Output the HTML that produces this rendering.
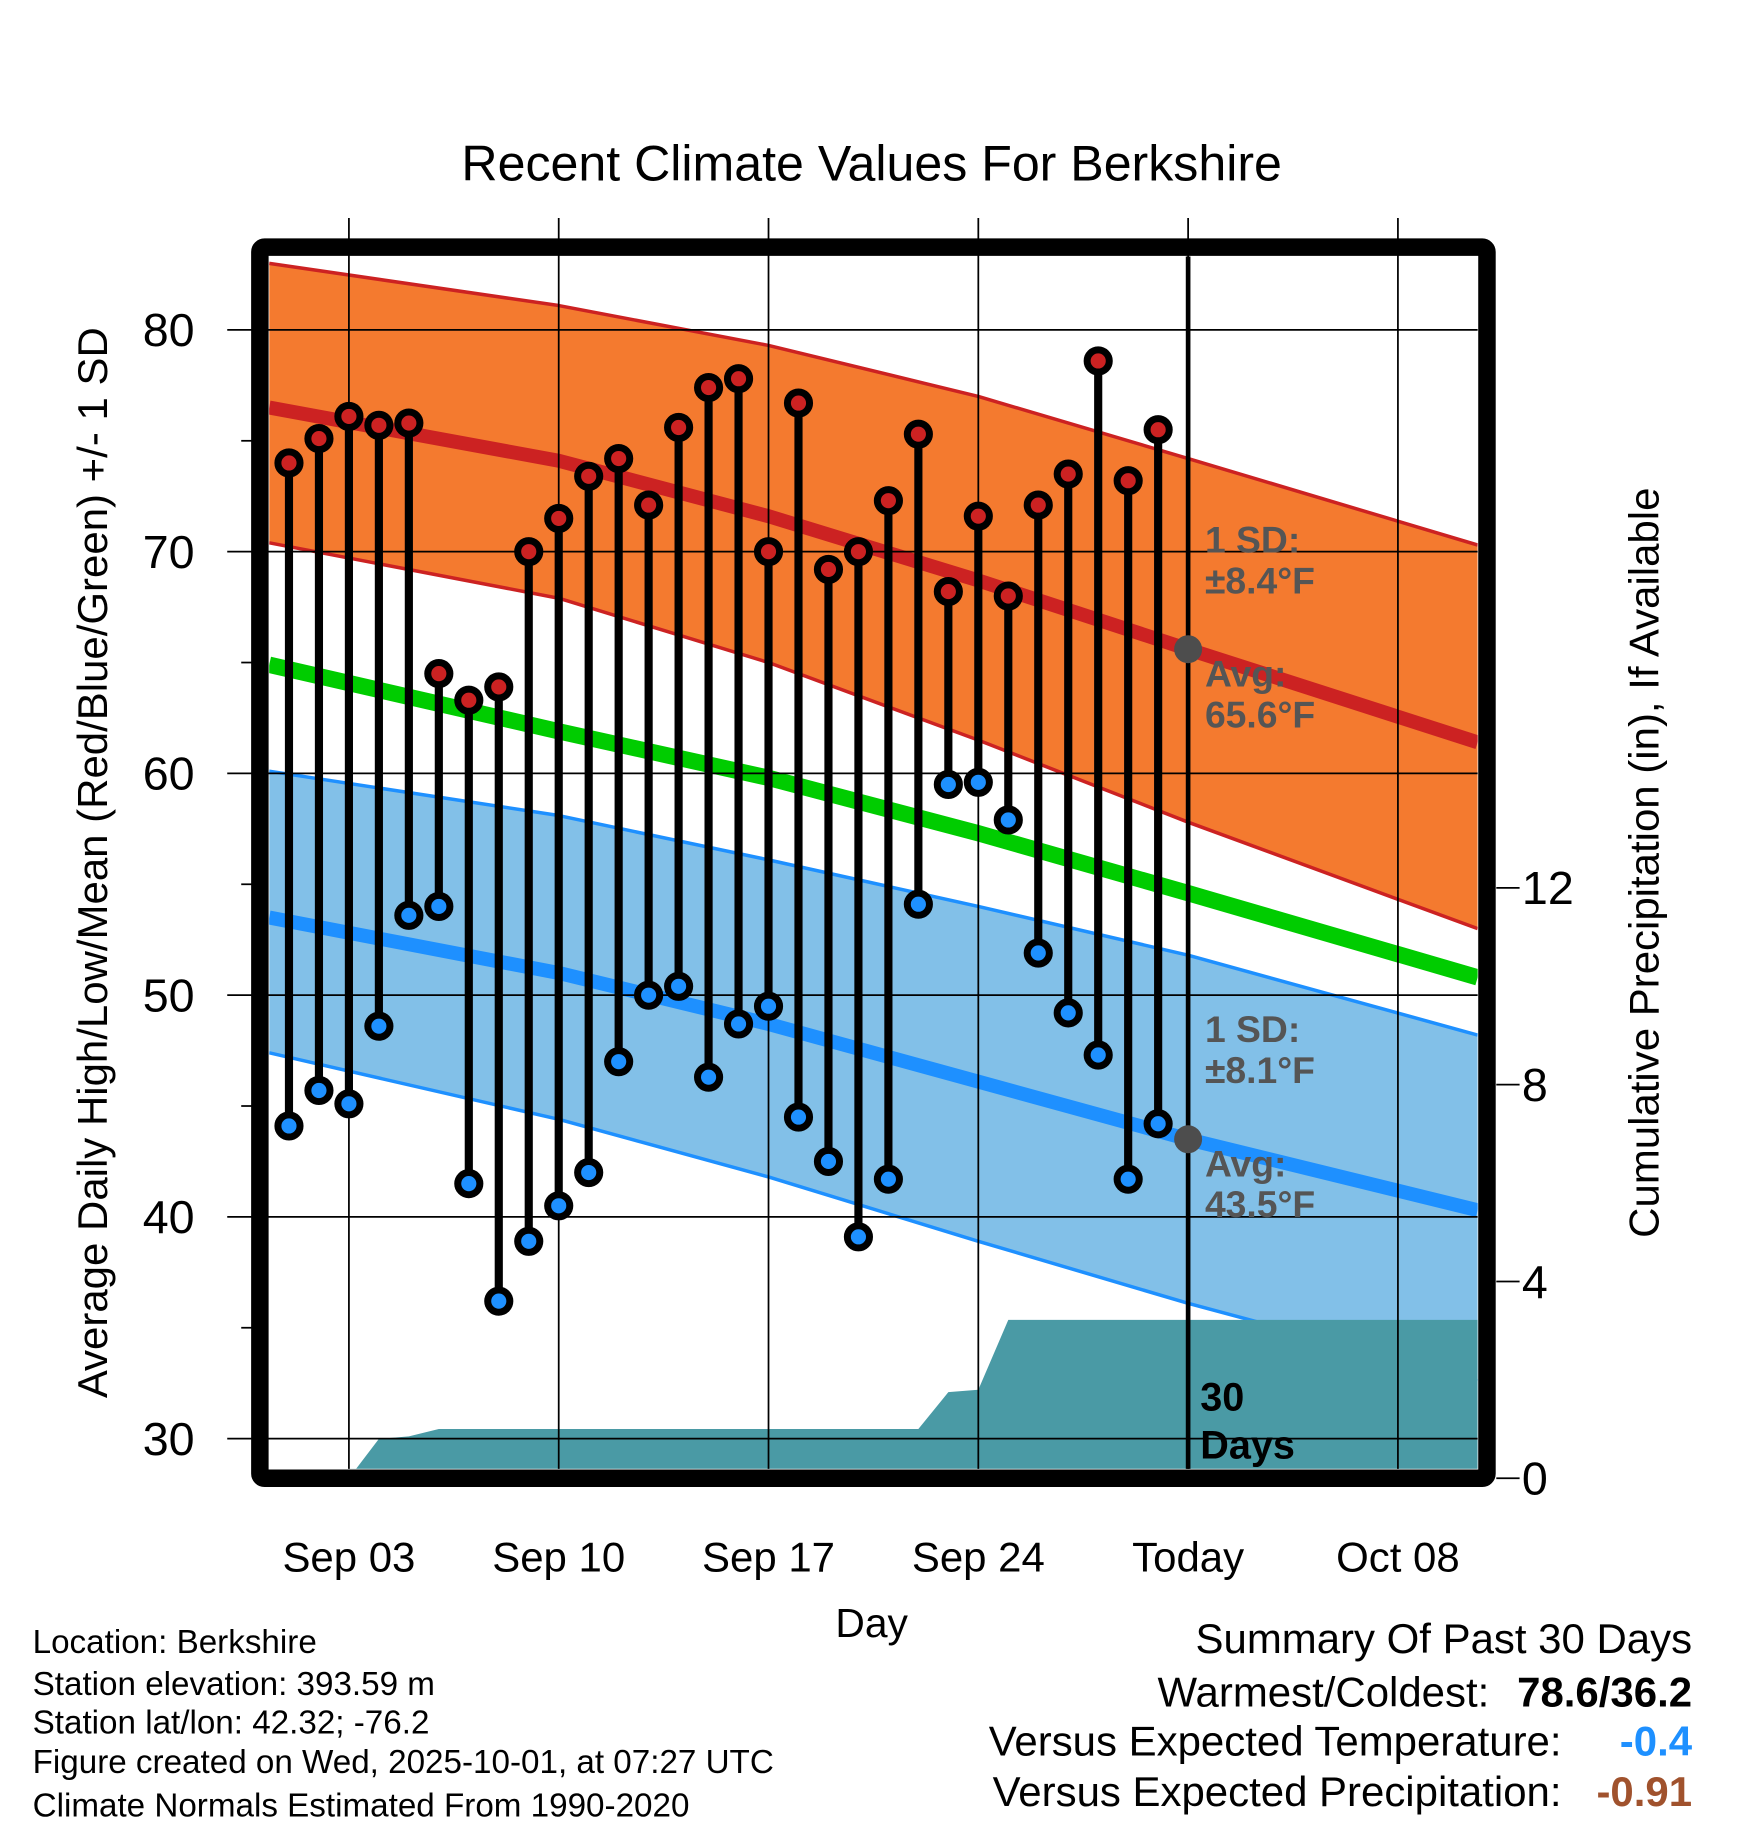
<!DOCTYPE html>
<html><head><meta charset="utf-8"><style>
html,body{margin:0;padding:0;background:#fff;}
svg{display:block;font-family:"Liberation Sans",sans-serif;}
</style></head><body>
<svg id="chart" width="1748" height="1828" viewBox="0 0 1500 1568" preserveAspectRatio="none" xmlns="http://www.w3.org/2000/svg">
<rect width="1500" height="1568" fill="#fff"/>
<g id="g"></g>
</svg>
<script>
// Observations (day of September)
const days = [1,2,3,4,5,6,7,8,9,10,11,12,13,14,15,16,17,18,19,20,21,22,23,24,25,26,27,28,29,30];
const highs = [74.0,75.1,76.1,75.7,75.8,64.5,63.3,63.9,70.0,71.5,73.4,74.2,72.1,75.6,77.4,77.8,70.0,76.7,69.2,70.0,72.3,75.3,68.2,71.6,68.0,72.1,73.5,78.6,73.2,75.5];
const lows = [44.1,45.7,45.1,48.6,53.6,54.0,41.5,36.2,38.9,40.5,42.0,47.0,50.0,50.4,46.3,48.7,49.5,44.5,42.5,39.1,41.7,54.1,59.5,59.6,57.9,51.9,49.2,47.3,41.7,44.2];
// Normals (sampled days)
const normDays = [0.34,10,17,24,31,40.66];
const hiAvg = [76.5,74.1,71.6,68.7,65.6,61.4];
const hiUpper = [83.0,81.1,79.3,77.0,74.2,70.3];
const hiLower = [70.4,67.9,65.0,61.5,57.8,53.0];
const meanAvg = [64.9,61.9,59.8,57.3,54.6,50.8];
const loAvg = [53.5,51.0,48.7,46.1,43.5,40.3];
const loUpper = [60.1,58.1,56.1,54.0,51.8,48.2];
const loLower = [47.4,44.4,41.8,38.9,36.1,32.6];
// Cumulative precipitation
const precipDays = [3,4,5,6,22,23,24,25,40.66];
const precipVals = [0,0.8,0.85,1.0,1.0,1.75,1.8,3.22,3.22];
const yTicks = [30,40,50,60,70,80];
const yMinor = [35,45,55,65,75];
const pTicks = [0,4,8,12];
const xTickDays = [3,10,17,24,31,38];
const xTickLabels = ["Sep 03","Sep 10","Sep 17","Sep 24","Today","Oct 08"];

const L=231,R=1268,T=220,B=1260;
const x=d=>L+(d-0.34)*(R-L)/(40.66-0.34);
const y=v=>283+(80-v)*19.02;
const yp=p=>1268-p*42.2;
const NS="http://www.w3.org/2000/svg";
const g=document.getElementById('g');
function el(tag,attrs,parent){const e=document.createElementNS(NS,tag);for(const k in attrs)e.setAttribute(k,attrs[k]);(parent||g).appendChild(e);return e;}
function line(xs,ys){return xs.map((d,i)=>x(d)+','+y(ys[i])).join(' ');}
function band(xs,up,lo){return line(xs,up)+' '+xs.slice().reverse().map((d,i)=>x(d)+','+y(lo[lo.length-1-i])).join(' ');}

const defs=el('defs',{});const cp=el('clipPath',{id:'clip'},defs);el('rect',{x:L,y:T,width:R-L,height:B-T},cp);
const plot=el('g',{'clip-path':'url(#clip)'});

let e;
e=el('polygon',{points:band(normDays,hiUpper,hiLower),fill:'#f47a2f'},plot);


e=el('polygon',{points:band(normDays,loUpper,loLower),fill:'#82c0e8'},plot);


[[hiUpper,'#cc2222',3],[hiLower,'#cc2222',3],[loUpper,'#1e90ff',3],[loLower,'#1e90ff',3],[hiAvg,'#cc2222',12],[loAvg,'#1e90ff',12],[meanAvg,'#00cc00',14]].forEach((s,i)=>{
 e=el('polyline',{points:line(normDays,s[0]),fill:'none',stroke:s[1],'stroke-width':s[2],'stroke-linejoin':'round'},plot);
 
 
});
let pp=precipDays.map((d,i)=>x(d)+','+yp(precipVals[i])).join(' ');
pp+=' '+x(40.66)+','+B+' '+x(precipDays[0])+','+B;
e=el('polygon',{points:pp,fill:'#4a9aa5'},plot);



// grid
yTicks.forEach(v=>{e=el('line',{x1:195,x2:R,y1:y(v),y2:y(v),stroke:'#000','stroke-width':1.5});
 e=el('text',{x:167,y:y(v)+14,'font-size':40,'text-anchor':'end'});e.textContent=v;});
yMinor.forEach(v=>{e=el('line',{x1:207,x2:216,y1:y(v),y2:y(v),stroke:'#000','stroke-width':1.5});});
xTickDays.forEach((d,i)=>{e=el('line',{x1:x(d),x2:x(d),y1:187,y2:B,stroke:'#000','stroke-width':1.5});
 e=el('text',{x:x(d),y:1348,'font-size':36,'text-anchor':'middle'});e.textContent=xTickLabels[i];});
pTicks.forEach(p=>{e=el('line',{x1:1284,x2:1304,y1:yp(p),y2:yp(p),stroke:'#000','stroke-width':1.5});
 e=el('text',{x:1306,y:yp(p)+14,'font-size':40});e.textContent=p;});

// today line
e=el('line',{x1:x(31),x2:x(31),y1:T,y2:B,stroke:'#000','stroke-width':4});



// stems
days.forEach((d,i)=>{
 e=el('line',{x1:x(d),x2:x(d),y1:y(highs[i]),y2:y(lows[i]),stroke:'#000','stroke-width':7});
 
 
});
days.forEach((d,i)=>{
 e=el('circle',{cx:x(d),cy:y(highs[i]),r:9.5,fill:'#cc2222',stroke:'#000','stroke-width':6});
 
 
 e=el('circle',{cx:x(d),cy:y(lows[i]),r:9.5,fill:'#1e90ff',stroke:'#000','stroke-width':6});
 
 
});
// avg markers
[[hiAvg[4],'high-avg-marker'],[loAvg[4],'low-avg-marker']].forEach(a=>{e=el('circle',{cx:x(31),cy:y(a[0]),r:12,fill:'#4d4d4d'});});

// frame
e=el('rect',{x:223,y:212,width:1053,height:1056,fill:'none',stroke:'#000','stroke-width':15,rx:4});


</script>
<svg style="position:absolute;left:0;top:0" width="1748" height="1828" viewBox="0 0 1500 1568" preserveAspectRatio="none" xmlns="http://www.w3.org/2000/svg" font-family="Liberation Sans, sans-serif">
<text x="748" y="155" font-size="43" text-anchor="middle">Recent Climate Values For Berkshire</text>
<text transform="translate(92,740) rotate(-90)" font-size="36" text-anchor="middle">Average Daily High/Low/Mean (Red/Blue/Green) +/- 1 SD</text>
<text transform="translate(1423,740) rotate(-90)" font-size="36" text-anchor="middle">Cumulative Precipitation (in), If Available</text>
<text x="748" y="1404" font-size="35" text-anchor="middle">Day</text>
<g fill="#555" font-weight="bold" font-size="32">
<text x="1034" y="474">1 SD:</text><text x="1034" y="509">±8.4°F</text>
<text x="1034" y="589">Avg:</text><text x="1034" y="624">65.6°F</text>
<text x="1034" y="894">1 SD:</text><text x="1034" y="929">±8.1°F</text>
<text x="1034" y="1009">Avg:</text><text x="1034" y="1044">43.5°F</text>
</g>
<g font-weight="bold" font-size="34">
<text x="1030" y="1210">30</text><text x="1030" y="1251">Days</text>
</g>
<g font-size="28.5">
<text x="28" y="1418">Location: Berkshire</text>
<text x="28" y="1454">Station elevation: 393.59 m</text>
<text x="28" y="1487">Station lat/lon: 42.32; -76.2</text>
<text x="28" y="1521">Figure created on Wed, 2025-10-01, at 07:27 UTC</text>
<text x="28" y="1558">Climate Normals Estimated From 1990-2020</text>
</g>
<g font-size="36">
<text x="1452" y="1418" text-anchor="end">Summary Of Past 30 Days</text>
<text x="1278" y="1464" text-anchor="end">Warmest/Coldest:</text>
<text x="1452" y="1464" text-anchor="end" font-weight="bold">78.6/36.2</text>
<text x="1340" y="1506" text-anchor="end">Versus Expected Temperature:</text>
<text x="1452" y="1506" text-anchor="end" font-weight="bold" fill="#1e90ff">-0.4</text>
<text x="1340" y="1549" text-anchor="end">Versus Expected Precipitation:</text>
<text x="1452" y="1549" text-anchor="end" font-weight="bold" fill="#a0522d">-0.91</text>
</g>
</svg>
</body></html>
